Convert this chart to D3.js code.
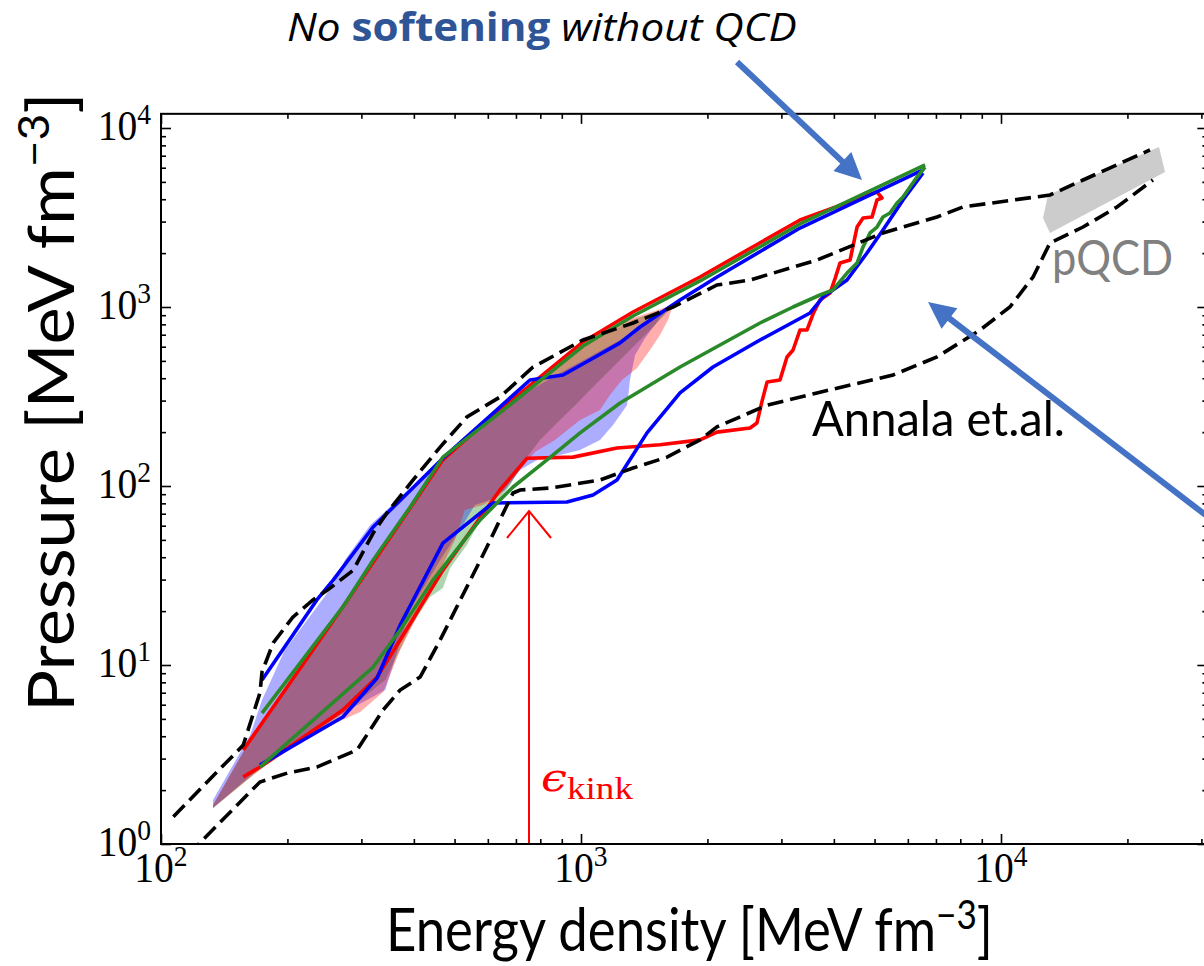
<!DOCTYPE html>
<html>
<head>
<meta charset="utf-8">
<script src="https://cdn.jsdelivr.net/npm/d3@7/dist/d3.min.js"></script>
<style>
html,body{margin:0;padding:0;background:#fff;}
svg{display:block;}
</style>
</head>
<body>
<svg id="chart" width="1204" height="966"></svg>
<script>
// ---------------- data (energy density e, pressure p) in MeV fm^-3 ----------------
const xMajorTicks = [1e2, 1e3, 1e4];
const xMajorExponents = ["2", "3", "4"];
const yMajorTicks = [1e0, 1e1, 1e2, 1e3, 1e4];
const yMajorExponents = ["0", "1", "2", "3", "4"];

const annalaUpper = [[107,1.42],[157,3.57],[172,6.98],[174,9.14],[185,13.3],[206,18.5],[230,23.1],[249,26.2],[287,33.9],[320,54.6],[345,70.7],[398,108],[462,165],[535,243],[641,314],[769,462],[1011,654],[1330,814],[1656,1000],[2108,1327],[2526,1415],[3647,1830],[5236,2591],[7041,3183],[8120,3621],[13080,4224],[15680,5123],[22630,7537]];
const annalaLower = [[116,0.87],[172,2.22],[200,2.49],[235,2.69],[293,3.35],[338,5.61],[371,7.25],[414,8.57],[462,13.8],[535,27.3],[597,45.6],[641,64.6],[689,91.4],[716,95],[844,97.4],[1110,108],[1330,126],[1603,145],[1920,181],[2108,214],[2774,283],[3647,331],[5532,417],[7041,526],[8913,744],[10500,1000],[11920,1471],[13080,2278],[15680,2798],[18890,3621],[23000,5123]];

const redUpper = [[157,3.35],[271,21.1],[469,140],[641,266],[1011,638],[1330,938],[1920,1471],[3322,3062],[5067,4390]];
const redLower = [[157,2.37],[172,2.69],[271,5.61],[327,8.57],[371,13.8],[469,33.9],[641,95],[744,143],[957,145],[1218,163],[1542,170],[1920,181],[2108,200],[2526,211],[2624,225],[2700,300],[2774,381],[2977,391],[3094,526],[3198,575],[3322,744],[3452,744],[3580,930],[3707,1094],[3917,1197],[4030,1450],[4137,1761],[4372,1830],[4542,2798],[4694,3142],[4931,3183],[5067,3960],[5208,4063],[5067,4390]];

const blueUpper = [[174,8.25],[235,23.1],[257,29.8],[320,59.0],[469,143],[641,276],[756,391],[906,417],[1050,506],[1239,630],[1382,773],[1721,1094],[2108,1471],[3322,2762],[6522,5829]];
const blueLower = [[172,2.76],[271,5.12],[327,8.46],[371,16.7],[469,48.0],[617,80.4],[926,81.4],[1068,89.1],[1218,108],[1436,198],[1721,331],[2062,462],[2668,654],[3510,926],[3769,1137],[4299,1415],[4797,2003],[5236,2693],[5843,3960],[6522,5606]];

const greenUpper = [[174,5.39],[271,21.1],[320,38.6],[392,76.3],[469,145],[641,256],[1011,605],[1330,891],[1920,1398],[3322,2909],[6594,6214]];
const greenLower = [[172,2.69],[320,9.74],[371,15.7],[444,29.8],[575,64.6],[689,98.7],[830,140],[995,198],[1239,291],[1721,462],[2668,814],[3198,1000],[3707,1167],[3981,1245],[4299,1548],[4542,1761],[4694,2164],[4877,2591],[5067,2798],[5236,3183],[5441,3350],[5655,3811],[5843,4116],[6072,4682],[6310,5324],[6594,6055]];

const greenBand = [[133,1.65],[157,3.27],[271,20.3],[469,136],[641,253],[1011,600],[1330,850],[1656,1013],[1501,793],[1345,613],[1205,474],[1080,367],[968,283],[867,219],[799,181],[736,140],[678,101],[624,78.4],[575,64.6],[535,46.8],[488,34.8],[469,26.9],[437,24.0],[392,16.1],[342,8.25],[274,5.46],[174,2.66],[133,1.59]];
const blueBand = [[133,1.76],[163,4.06],[174,6.38],[197,12.1],[257,28.0],[274,38.6],[315,60.5],[469,143],[641,273],[891,428],[1239,654],[1656,1026],[1542,868],[1421,671],[1345,539],[1308,391],[1298,330],[1287,283],[1192,219],[1110,181],[995,159],[891,149],[799,143],[716,123],[659,95],[607,83.5],[559,78.4],[515,56.8],[462,38.6],[392,20.3],[342,7.25],[274,5.46],[174,2.73],[133,1.59]];
const redBand = [[133,1.65],[157,3.27],[271,20.8],[469,138],[641,256],[1011,621],[1330,868],[1656,1026],[1611,846],[1542,698],[1460,575],[1360,456],[1252,391],[1172,322],[1110,266],[995,234],[867,181],[777,155],[716,123],[641,89.1],[584,78.4],[529,73.4],[501,49.9],[462,33.9],[414,20.3],[371,12.1],[338,7.07],[298,5.46],[239,4.33],[174,2.66],[133,1.59]];

const pqcdBand = [[12940,4224],[23780,7833],[24580,5679],[13080,2591],[12590,3142]];

const epsKink = 752;
const epsKinkTipP = 72.5;

// annotation anchors (data coordinates)
const arrowNoSoftening = {from:[2352,23370], to:[4667,5123]};
const arrowQCD = {from:[34150,56.8], to:[6703,1066]};
const annalaLabelPos = [3548,190];
const pqcdLabelPos = [13223,1510];
const kinkLabelPos = [803,1.97];

// ---------------- layout ----------------
const svg = d3.select("#chart");
const PX0 = 161, DEC_X = 420, PY0 = 844, DEC_Y = 179;
const x = d3.scaleLog().domain([100, 31000]).range([PX0, PX0 + Math.log10(310) * DEC_X]);
const y = d3.scaleLog().domain([1, 12000]).range([PY0, PY0 - Math.log10(12000) * DEC_Y]);
const [xl, xr] = x.range();
const [yb, yt] = y.range();

const defs = svg.append("defs");
defs.append("clipPath").attr("id", "plotclip").append("rect")
  .attr("x", xl).attr("y", yt).attr("width", xr - xl).attr("height", yb - yt);

const plot = svg.append("g").attr("clip-path", "url(#plotclip)");
const line = d3.line().x(d => x(d[0])).y(d => y(d[1]));
const poly = d => line(d) + "Z";

// pQCD band
plot.append("path").attr("d", poly(pqcdBand)).attr("fill", "#cccccc").attr("stroke", "none");

// bands
plot.append("path").attr("d", poly(greenBand)).attr("fill", "rgb(0,128,0)").attr("fill-opacity", 0.32);
plot.append("path").attr("d", poly(blueBand)).attr("fill", "rgb(0,0,255)").attr("fill-opacity", 0.32);
plot.append("path").attr("d", poly(redBand)).attr("fill", "rgb(255,0,0)").attr("fill-opacity", 0.32);

// envelopes
const curves = [
  [redUpper, "#ff0000"], [redLower, "#ff0000"],
  [blueUpper, "#0000ff"], [blueLower, "#0000ff"],
  [greenUpper, "#2a8a2a"], [greenLower, "#2a8a2a"]
];
curves.forEach(([d, c]) => {
  plot.append("path").attr("d", line(d)).attr("fill", "none").attr("stroke", c)
    .attr("stroke-width", 3.6).attr("stroke-linejoin", "round");
});

// Annala et al. dashed bounds
[annalaUpper, annalaLower].forEach(d => {
  plot.append("path").attr("d", line(d)).attr("fill", "none").attr("stroke", "#000")
    .attr("stroke-width", 3.6).attr("stroke-dasharray", "16,7");
});

// epsilon kink marker
const kx = x(epsKink), ktip = y(epsKinkTipP);
plot.append("line").attr("x1", kx).attr("x2", kx).attr("y1", yb).attr("y2", ktip)
  .attr("stroke", "#ff0000").attr("stroke-width", 2);
plot.append("path").attr("d", `M${kx-22},${ktip+27}L${kx},${ktip}L${kx+22},${ktip+27}`)
  .attr("fill", "none").attr("stroke", "#ff0000").attr("stroke-width", 2);

// ---------------- axes ----------------
function minorTicks(lo, hi) {
  const out = [];
  for (let d = Math.pow(10, Math.floor(Math.log10(lo))); d <= hi; d *= 10)
    for (let k = 2; k <= 9; k++) { const v = k * d; if (v >= lo && v <= hi) out.push(v); }
  return out;
}
const xMinor = minorTicks(100, 31000), yMinor = minorTicks(1, 12000);
const tickStyle = g => { g.select(".domain").remove(); g.selectAll("line").attr("stroke", "#000").attr("stroke-width", 1.6); };

svg.append("g").attr("transform", `translate(0,${yb})`).call(d3.axisBottom(x).tickValues(xMajorTicks).tickSize(-10).tickFormat("")).call(tickStyle);
svg.append("g").attr("transform", `translate(0,${yb})`).call(d3.axisBottom(x).tickValues(xMinor).tickSize(-5).tickFormat("")).call(tickStyle);
svg.append("g").attr("transform", `translate(0,${yt})`).call(d3.axisTop(x).tickValues(xMajorTicks).tickSize(-10).tickFormat("")).call(tickStyle);
svg.append("g").attr("transform", `translate(0,${yt})`).call(d3.axisTop(x).tickValues(xMinor).tickSize(-5).tickFormat("")).call(tickStyle);
svg.append("g").attr("transform", `translate(${xl},0)`).call(d3.axisLeft(y).tickValues(yMajorTicks).tickSize(-10).tickFormat("")).call(tickStyle);
svg.append("g").attr("transform", `translate(${xl},0)`).call(d3.axisLeft(y).tickValues(yMinor).tickSize(-5).tickFormat("")).call(tickStyle);
svg.append("g").attr("transform", `translate(${xr},0)`).call(d3.axisRight(y).tickValues(yMajorTicks).tickSize(-10).tickFormat("")).call(tickStyle);
svg.append("g").attr("transform", `translate(${xr},0)`).call(d3.axisRight(y).tickValues(yMinor).tickSize(-5).tickFormat("")).call(tickStyle);

svg.append("rect").attr("x", xl).attr("y", yt).attr("width", xr - xl).attr("height", yb - yt)
  .attr("fill", "none").attr("stroke", "#000").attr("stroke-width", 2);

// tick labels 10^n
function powLabel(px, py, exp, anchor) {
  const t = svg.append("text").attr("font-family", "'Liberation Serif', serif").attr("font-size", 43)
    .attr("text-anchor", anchor).attr("fill", "#000")
    .attr("transform", `translate(${px},${py}) scale(0.92,1)`);
  t.append("tspan").text("10");
  t.append("tspan").attr("font-size", 30).attr("dy", -16).text(exp);
}
yMajorTicks.forEach((v, i) => powLabel(151, y(v) + 12, yMajorExponents[i], "end"));
xMajorTicks.forEach((v, i) => powLabel(x(v), yb + 38, xMajorExponents[i], "middle"));

// ---------------- text helpers ----------------
function fitText(sel, tx, ty, targetW, sy, rot) {
  const w = sel.node().getBBox().width;
  const sx = targetW / w;
  sel.attr("transform", `translate(${tx},${ty})` + (rot ? ` rotate(${rot})` : "") + ` scale(${sx},${sy || 1})`);
}
const sansFont = "Lato, 'DejaVu Sans', sans-serif";

// x axis label
const xlab = svg.append("text").attr("font-family", sansFont).attr("font-size", 60).attr("fill", "#000");
xlab.append("tspan").text("Energy density [MeV fm");
xlab.append("tspan").attr("font-size", 40).attr("dy", -22).text("\u22123");
xlab.append("tspan").attr("dy", 22).text("]");
fitText(xlab, 386, 951, 607);

// y axis label
const ylab = svg.append("text").attr("font-family", sansFont).attr("font-size", 64).attr("fill", "#000");
ylab.append("tspan").text("Pressure [MeV fm");
ylab.append("tspan").attr("font-size", 42).attr("dy", -25).text("\u22123");
ylab.append("tspan").attr("dy", 25).text("]");
fitText(ylab, 74, 712, 620, 1, -90);

// annotations
const annala = svg.append("text").attr("font-family", sansFont).attr("font-size", 49).attr("fill", "#000").text("Annala et.al.");
fitText(annala, x(annalaLabelPos[0]), y(annalaLabelPos[1]), 253);

const pq = svg.append("text").attr("font-family", sansFont).attr("font-size", 49).attr("fill", "#808080").text("pQCD");
fitText(pq, x(pqcdLabelPos[0]), y(pqcdLabelPos[1]), 121);

const kl = svg.append("text").attr("fill", "#ff0000");
kl.append("tspan").attr("font-family", "'DejaVu Serif', serif").attr("font-style", "italic").attr("font-size", 40).text("\u03F5");
kl.append("tspan").attr("font-family", "'Liberation Serif', serif").attr("font-size", 32).attr("dy", 8).text("kink");
fitText(kl, x(kinkLabelPos[0]), y(kinkLabelPos[1]), 92);

// title
const title = svg.append("text").attr("font-family", "'Open Sans', sans-serif").attr("font-size", 39).attr("fill", "#000");
title.append("tspan").attr("font-style", "italic").text("No ");
title.append("tspan").attr("font-weight", "bold").attr("fill", "#2f5597").text("softening");
title.append("tspan").attr("font-style", "italic").text(" without QCD");
fitText(title, 287, 41, 510);

// blue annotation arrows
function arrow(a) {
  const [x0, y0] = [x(a.from[0]), y(a.from[1])];
  const [x1, y1] = [x(a.to[0]), y(a.to[1])];
  const dx = x1 - x0, dy = y1 - y0, L = Math.hypot(dx, dy);
  const ux = dx / L, uy = dy / L, nx = -uy, ny = ux;
  const HL = 27, HW = 13;
  const bx = x1 - ux * HL, by = y1 - uy * HL;
  svg.append("line").attr("x1", x0).attr("y1", y0).attr("x2", bx + ux * 2).attr("y2", by + uy * 2)
    .attr("stroke", "#4472c4").attr("stroke-width", 6);
  svg.append("path").attr("d", `M${x1},${y1}L${bx + nx * HW},${by + ny * HW}L${bx - nx * HW},${by - ny * HW}Z`)
    .attr("fill", "#4472c4");
}
arrow(arrowNoSoftening);
arrow(arrowQCD);
</script>
</body>
</html>
